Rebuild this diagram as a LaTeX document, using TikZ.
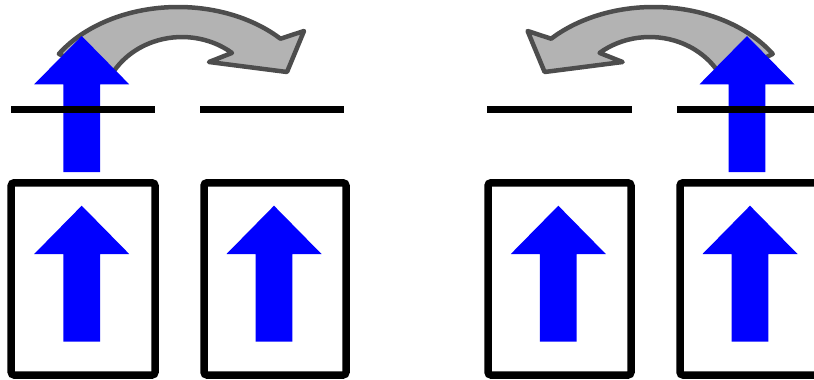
\documentclass[tikz,border=0pt]{standalone}
\begin{document}
\definecolor{arrowgray}{HTML}{B3B3B3}
\definecolor{arrowedge}{HTML}{4D4D4D}
\begin{tikzpicture}[x=1pt,y=-1pt,
  bluearrow/.pic={\fill[blue] (0,0) -- (47.5,48.3) -- (18.35,48.3) -- (18.35,136) -- (-18.35,136) -- (-18.35,48.3) -- (-47.5,48.3) -- cycle;},
  cardbox/.style={draw=black, line width=7.5pt, rounded corners=3pt},
  barline/.style={draw=black, line width=7.3pt},
  curvearrow/.style={fill=arrowgray, draw=arrowedge, line width=4.5pt, line join=round}]
\useasboundingbox (0,0) rectangle (814,380);
% curved gray arrows
\path[curvearrow] (58.9,53.9) arc[start angle=-147, end angle=-43.8, x radius=142, y radius=103]
  -- (304,31) -- (287,72) -- (209,62) -- (232,52.9)
  arc[start angle=-51.5, end angle=-155, x radius=80.4, y radius=73] -- cycle;
\begin{scope}[shift={(831.6,0)}, xscale=-1]
\path[curvearrow] (58.9,53.9) arc[start angle=-147, end angle=-43.8, x radius=142, y radius=103]
  -- (304,31) -- (287,72) -- (209,62) -- (232,52.9)
  arc[start angle=-51.5, end angle=-155, x radius=80.4, y radius=73] -- cycle;
\end{scope}
% big blue arrows
\pic at (81.7,36) {bluearrow};
\pic at (747,36) {bluearrow};
% horizontal bars
\coordinate (l1a) at (11,109.7);  \coordinate (l1b) at (155,109.7);
\coordinate (l2a) at (200,109.7); \coordinate (l2b) at (344,109.7);
\coordinate (l3a) at (487,109.7); \coordinate (l3b) at (632,109.7);
\coordinate (l4a) at (677,109.7); \coordinate (l4b) at (820,109.7);
\draw[barline] (l1a) -- (l1b);
\draw[barline] (l2a) -- (l2b);
\draw[barline] (l3a) -- (l3b);
\draw[barline] (l4a) -- (l4b);
% boxes
\draw[cardbox] (11.2,182.8) rectangle (155,375);
\draw[cardbox] (204,182.8) rectangle (346,375);
\draw[cardbox] (488,182.8) rectangle (631,375);
\draw[cardbox] (680,182.8) rectangle (830,375);
% arrows in boxes
\pic at (81.7,205.7) {bluearrow};
\pic at (274,205.7) {bluearrow};
\pic at (558.3,205.7) {bluearrow};
\pic at (750,205.7) {bluearrow};
\end{tikzpicture}
\end{document}
